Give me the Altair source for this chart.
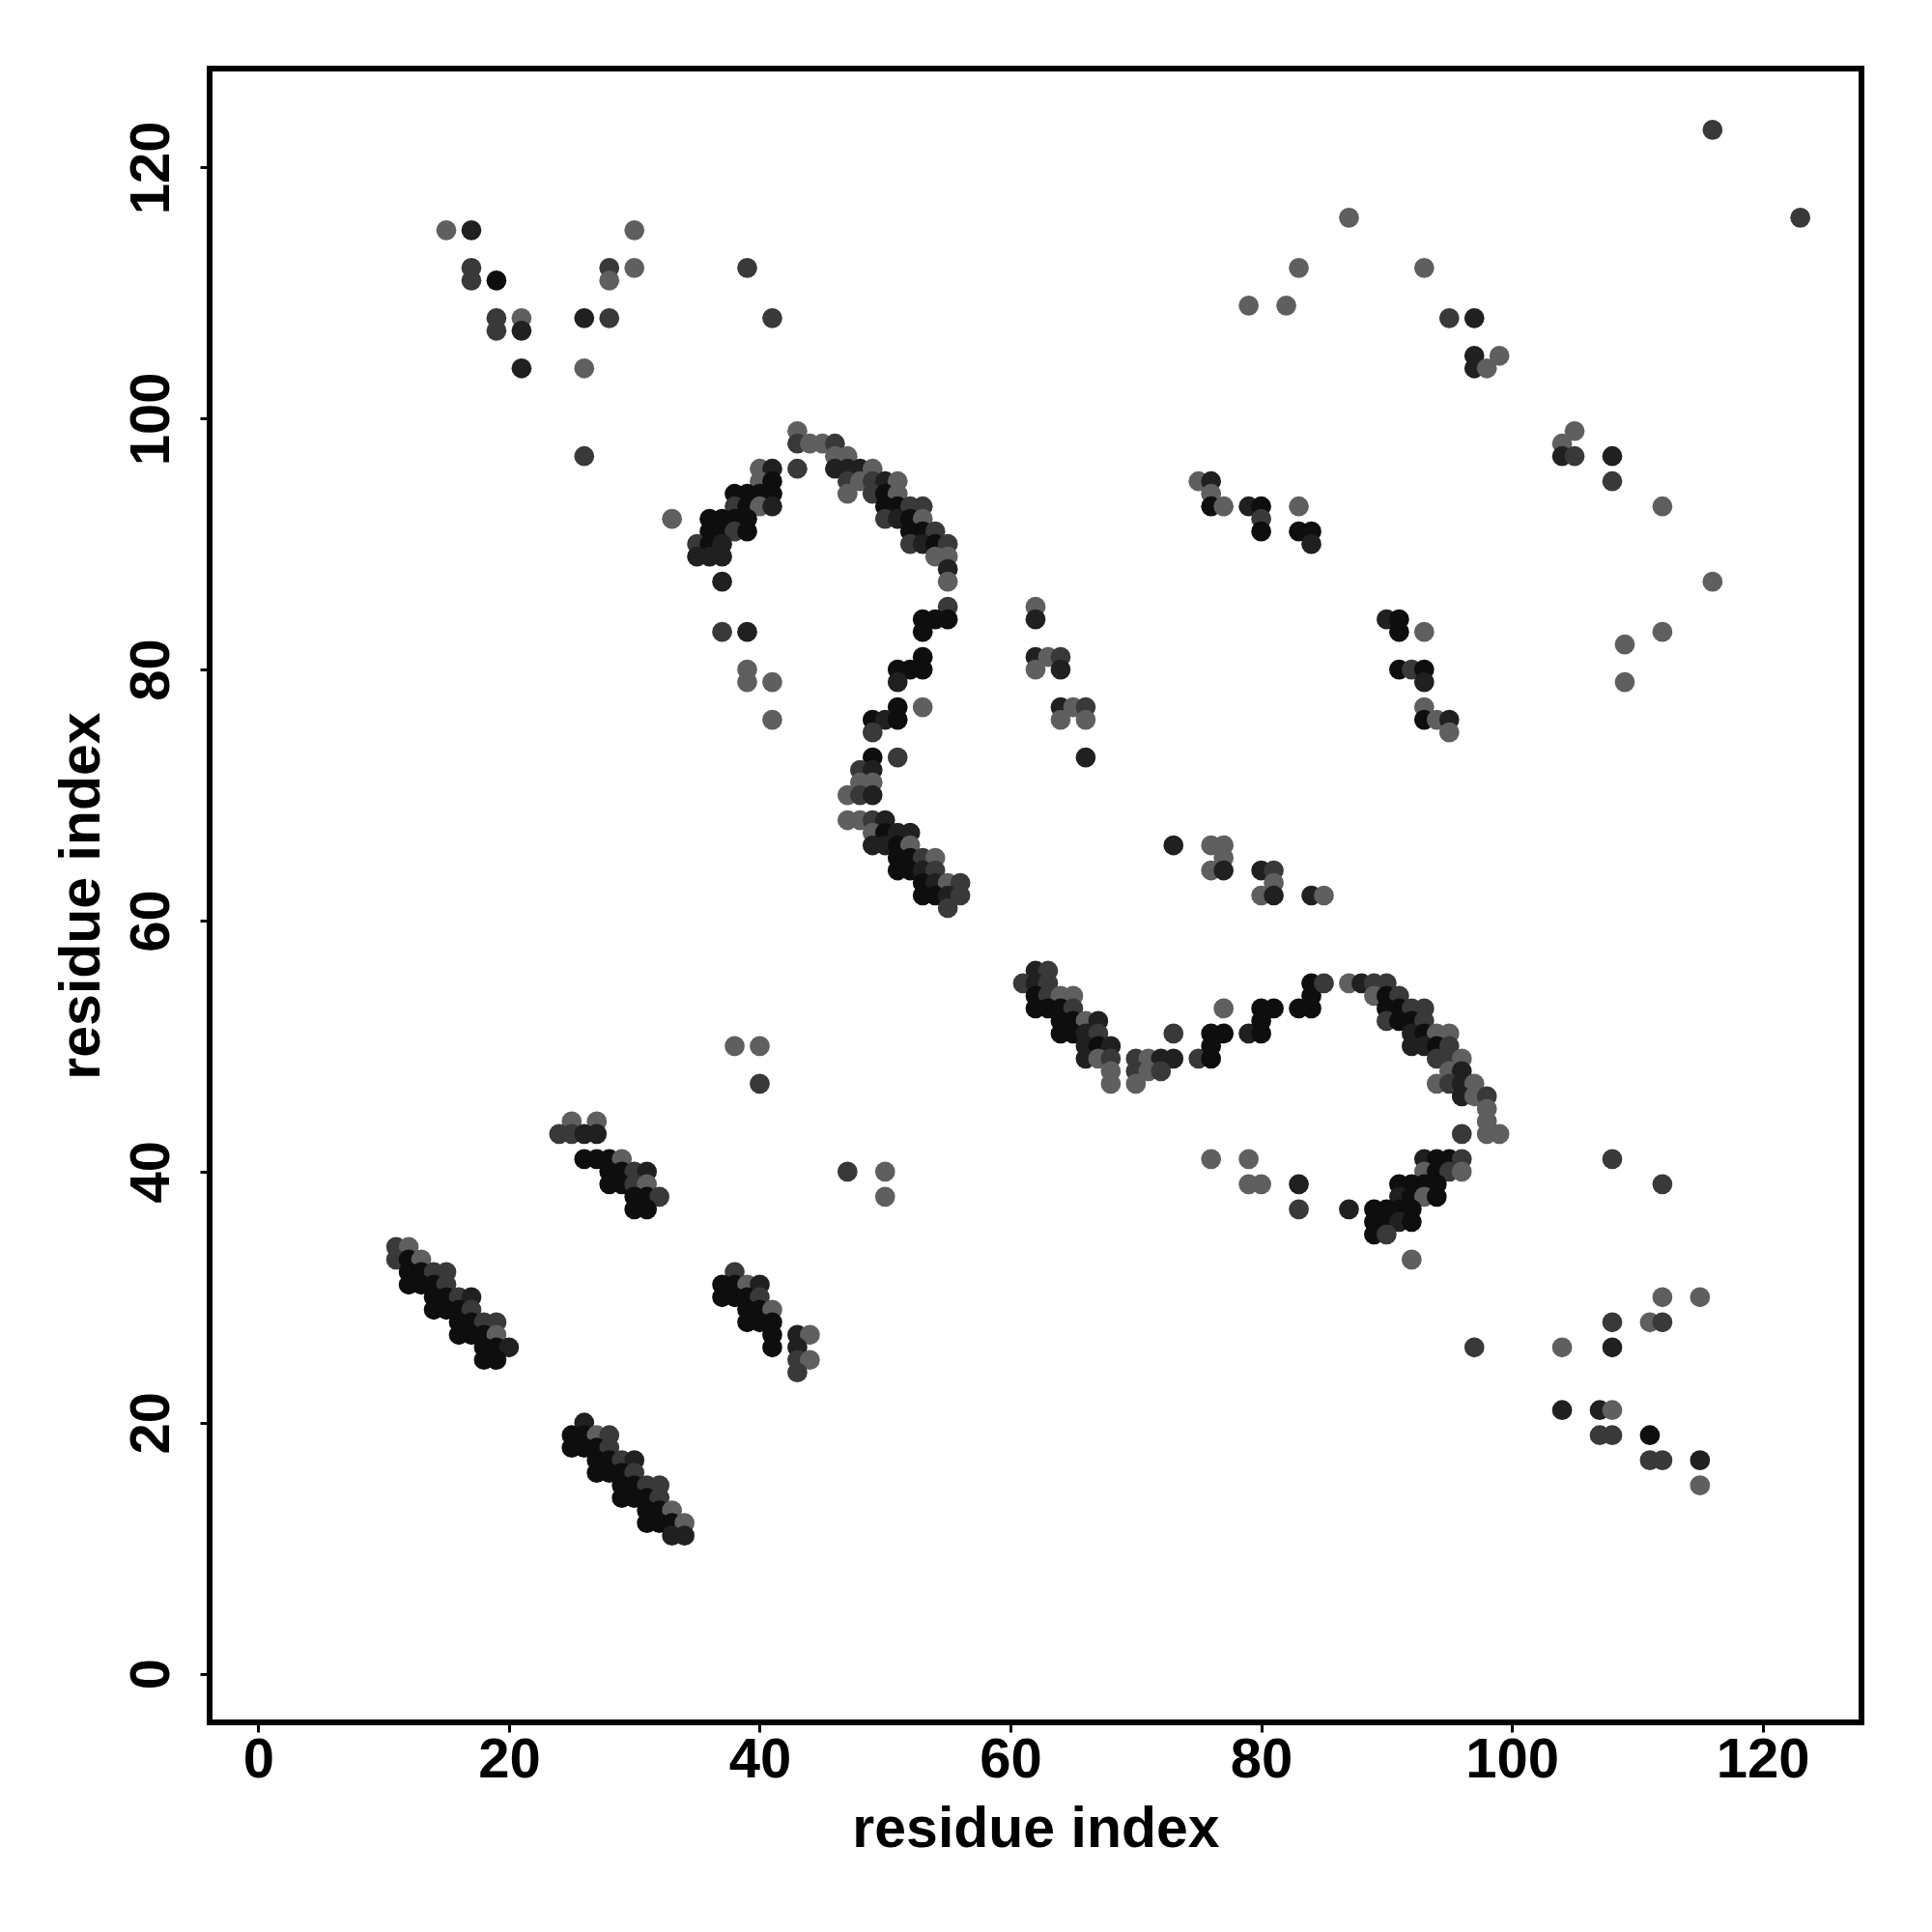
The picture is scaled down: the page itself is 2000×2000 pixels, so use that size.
import altair as alt
import pandas as pd

# contact strength classes read from the grey level of each dot
level_prob = {"K": 0.95, "D": 0.85, "M": 0.70, "G": 0.50}

top_left = [(15,115,"G"),(17,115,"D"),(17,112,"M"),(17,111,"M"),(19,111,"K"),(19,108,"M"),(19,107,"M"),
            (21,108,"G"),(21,107,"D"),(21,104,"D"),(26,108,"D"),(26,104,"G"),(26,97,"M"),(28,112,"M"),
            (28,111,"G"),(28,108,"M"),(30,115,"G"),(30,112,"G"),(39,112,"M"),(41,108,"M"),(33,92,"G")]

arc_right = [(43,99,"G"),(43,98,"M"),(44,98,"G"),(45,98,"G"),(46,98,"M"),(46,97,"G"),(47,97,"G"),(43,96,"M"),
             (46,96,"D"),(47,96,"D"),(48,96,"D"),(49,96,"G"),(47,95,"M"),(48,95,"G"),(49,95,"M"),(50,95,"D"),
             (51,95,"G"),(47,94,"G"),(49,94,"M"),(50,94,"K"),(51,94,"G"),(50,93,"K"),(51,93,"K"),(52,93,"M"),
             (53,93,"M"),(50,92,"M"),(51,92,"D"),(52,92,"K"),(53,92,"G"),(52,91,"K"),(53,91,"K"),(54,91,"M"),
             (52,90,"M"),(53,90,"D"),(54,90,"K"),(55,90,"M"),(54,89,"G"),(55,89,"G"),(55,88,"D"),(55,87,"G"),
             (55,85,"M"),(53,84,"K"),(54,84,"K"),(55,84,"K"),(53,83,"K"),(53,81,"K"),(51,80,"K"),(52,80,"K"),
             (53,80,"K"),(51,79,"D"),(53,77,"G"),(51,77,"K"),(49,76,"K"),(50,76,"D"),(51,76,"K"),(49,75,"M"),
             (51,73,"M"),(49,73,"K"),(48,72,"M"),(49,72,"D"),(48,71,"G"),(49,71,"G"),(47,70,"G"),(48,70,"M"),
             (49,70,"D"),(47,68,"G"),(48,68,"G"),(49,68,"M"),(50,68,"D"),(49,67,"G"),(50,67,"K"),(51,67,"D"),
             (52,67,"D"),(49,66,"D"),(50,66,"D"),(51,66,"K"),(52,66,"G"),(51,65,"K"),(52,65,"K"),(53,65,"M"),
             (54,65,"G"),(51,64,"K"),(52,64,"K"),(53,64,"D"),(54,64,"M"),(53,63,"K"),(54,63,"D"),(55,63,"G"),
             (56,63,"M"),(53,62,"K"),(54,62,"K"),(55,62,"D"),(56,62,"M"),(55,61,"M")]

arc_left = [(40,96,"G"),(41,96,"D"),(40,95,"G"),(41,95,"K"),(38,94,"K"),(39,94,"K"),(40,94,"K"),(41,94,"K"),
            (38,93,"M"),(39,93,"K"),(40,93,"G"),(41,93,"D"),(36,92,"K"),(37,92,"K"),(38,92,"K"),(39,92,"K"),
            (36,91,"K"),(37,91,"K"),(38,91,"M"),(39,91,"K"),(35,90,"M"),(36,90,"K"),(37,90,"D"),(35,89,"D"),
            (36,89,"D"),(37,89,"D"),(37,87,"D"),(37,83,"M"),(39,83,"D"),(39,80,"G"),(39,79,"G"),(41,79,"G"),
            (41,76,"G")]

lower_left = [(38,50,"G"),(40,50,"G"),(40,47,"M"),(47,40,"M"),(50,40,"G"),(50,38,"G"),
              (11,34,"M"),(12,34,"G"),(11,33,"M"),(12,33,"K"),(13,33,"G"),(12,32,"K"),(13,32,"K"),(14,32,"M"),
              (15,32,"M"),(12,31,"K"),(13,31,"K"),(14,31,"K"),(15,31,"M"),(14,30,"K"),(15,30,"K"),(16,30,"M"),
              (17,30,"D"),(14,29,"K"),(15,29,"K"),(16,29,"K"),(17,29,"M"),(16,28,"K"),(17,28,"K"),(18,28,"M"),
              (19,28,"M"),(16,27,"K"),(17,27,"K"),(18,27,"K"),(19,27,"G"),(18,26,"K"),(19,26,"K"),(20,26,"D"),
              (18,25,"K"),(19,25,"K"),
              (25,44,"G"),(27,44,"G"),(24,43,"M"),(25,43,"M"),(26,43,"D"),(27,43,"D"),(26,41,"K"),(27,41,"K"),
              (28,41,"K"),(29,41,"G"),(28,40,"K"),(29,40,"K"),(30,40,"M"),(31,40,"D"),(28,39,"K"),(29,39,"K"),
              (30,39,"M"),(31,39,"G"),(30,38,"K"),(31,38,"K"),(32,38,"M"),(30,37,"K"),(31,37,"K"),
              (38,32,"M"),(37,31,"K"),(38,31,"K"),(39,31,"G"),(40,31,"D"),(37,30,"K"),(38,30,"K"),(39,30,"K"),
              (40,30,"M"),(39,29,"K"),(40,29,"K"),(41,29,"G"),(39,28,"K"),(40,28,"K"),(41,28,"K"),(41,27,"K"),
              (41,26,"K"),(43,27,"D"),(44,27,"G"),(43,26,"D"),(43,25,"M"),(44,25,"G"),(43,24,"M"),
              (26,20,"D"),(25,19,"K"),(26,19,"K"),(27,19,"G"),(28,19,"M"),(25,18,"K"),(26,18,"K"),(27,18,"K"),
              (28,18,"M"),(27,17,"K"),(28,17,"K"),(29,17,"M"),(30,17,"D"),(27,16,"K"),(28,16,"K"),(29,16,"K"),
              (30,16,"M"),(29,15,"K"),(30,15,"K"),(31,15,"M"),(32,15,"M"),(29,14,"K"),(30,14,"K"),(31,14,"K"),
              (32,14,"M"),(31,13,"K"),(32,13,"K"),(33,13,"G"),(31,12,"K"),(32,12,"K"),(33,12,"K"),(34,12,"G"),
              (33,11,"D"),(34,11,"D")]

s_curve = [(62,56,"D"),(63,56,"M"),(61,55,"M"),(62,55,"D"),(63,55,"M"),(62,54,"K"),(63,54,"M"),(64,54,"G"),
           (65,54,"G"),(62,53,"K"),(63,53,"K"),(64,53,"K"),(65,53,"M"),(64,52,"K"),(65,52,"K"),(66,52,"G"),
           (67,52,"D"),(64,51,"K"),(65,51,"K"),(66,51,"D"),(67,51,"M"),(66,50,"D"),(67,50,"K"),(68,50,"D"),
           (66,49,"D"),(67,49,"G"),(68,49,"M"),(68,48,"G"),(68,47,"G"),(70,49,"M"),(71,49,"G"),(72,49,"D"),
           (73,49,"D"),(70,48,"M"),(71,48,"G"),(72,48,"M"),(70,47,"G"),(73,51,"M"),(75,49,"M"),(76,49,"K"),
           (76,50,"K"),(76,51,"K"),(77,51,"K"),(77,53,"G"),(79,51,"D"),(80,51,"K"),(80,52,"K"),(80,53,"K"),
           (81,53,"K"),(83,53,"K"),(84,53,"K"),(84,54,"K"),(84,55,"K"),(85,55,"M"),(87,55,"G"),(88,55,"D"),
           (89,55,"M"),(90,55,"M"),(89,54,"G"),(90,54,"K"),(91,54,"M"),(90,53,"K"),(91,53,"K"),(92,53,"M"),
           (93,53,"M"),(90,52,"M"),(91,52,"K"),(92,52,"K"),(93,52,"M"),(92,51,"D"),(93,51,"K"),(94,51,"G"),
           (95,51,"G"),(92,50,"D"),(93,50,"D"),(94,50,"K"),(95,50,"M"),(94,49,"M"),(95,49,"M"),(96,49,"G"),
           (95,48,"G"),(96,48,"D"),(94,47,"G"),(95,47,"M"),(96,47,"D"),(97,47,"G"),(96,46,"D"),(97,46,"G"),
           (98,46,"M"),(98,45,"G"),(98,44,"G"),(96,43,"M"),(98,43,"G"),(99,43,"G"),
           (83,39,"D"),(83,37,"M"),(87,37,"D"),(92,33,"G"),(93,41,"D"),(94,41,"K"),(95,41,"K"),(96,41,"M"),
           (93,40,"G"),(94,40,"K"),(95,40,"M"),(96,40,"G"),(91,39,"K"),(92,39,"K"),(93,39,"K"),(94,39,"K"),
           (91,38,"D"),(92,38,"K"),(93,38,"G"),(94,38,"K"),(89,37,"K"),(90,37,"K"),(91,37,"K"),(92,37,"K"),
           (89,36,"K"),(90,36,"K"),(91,36,"D"),(92,36,"K"),(89,35,"K"),(90,35,"M"),(76,41,"G"),(79,41,"G"),
           (79,39,"G"),(80,39,"G")]

middle = [(75,95,"G"),(76,95,"D"),(76,94,"G"),(76,93,"K"),(77,93,"G"),(79,93,"D"),(80,93,"K"),(80,92,"M"),
          (80,91,"K"),(83,93,"G"),(83,91,"K"),(84,91,"K"),(84,90,"D"),(62,85,"G"),(62,84,"D"),(62,81,"D"),
          (63,81,"G"),(64,81,"M"),(62,80,"G"),(64,80,"D"),(64,77,"D"),(65,77,"G"),(66,77,"M"),(64,76,"G"),
          (66,76,"G"),(66,73,"D"),(90,84,"D"),(91,84,"K"),(91,83,"K"),(93,83,"G"),(91,80,"K"),(92,80,"M"),
          (93,80,"K"),(93,79,"D"),(93,77,"G"),(93,76,"K"),(94,76,"G"),(95,76,"D"),(95,75,"G"),(73,66,"D"),
          (76,66,"G"),(77,66,"G"),(77,65,"G"),(76,64,"G"),(77,64,"D"),(80,64,"D"),(81,64,"M"),(81,63,"G"),
          (80,62,"G"),(81,62,"D"),(84,62,"D"),(85,62,"G")]

upper_right = [(87,116,"G"),(83,112,"G"),(93,112,"G"),(79,109,"G"),(82,109,"G"),(95,108,"M"),(97,108,"D"),
               (97,105,"D"),(97,104,"D"),(98,104,"G"),(99,105,"G"),(104,98,"G"),(105,99,"G"),(104,97,"D"),
               (105,97,"M"),(108,97,"D"),(108,95,"M"),(112,93,"G"),(116,87,"G"),(112,83,"G"),(109,82,"G"),
               (109,79,"G"),(116,123,"M"),(123,116,"M")]

lower_right = [(108,41,"M"),(112,39,"M"),(97,26,"M"),(104,26,"G"),(108,26,"D"),(112,30,"G"),(115,30,"G"),
               (108,28,"M"),(111,28,"G"),(112,28,"M"),(104,21,"D"),(107,21,"D"),(108,21,"G"),(107,19,"M"),
               (108,19,"M"),(111,19,"K"),(111,17,"M"),(112,17,"M"),(115,17,"D"),(115,15,"G")]

axis_ticks = [0, 20, 40, 60, 80, 100, 120]

rows = []
for group in (top_left, arc_right, arc_left, lower_left, s_curve, middle, upper_right, lower_right):
    for i, j, lev in group:
        rows.append({"i": i, "j": j, "p": level_prob[lev]})
df = pd.DataFrame(rows)

FONT = "Liberation Sans"

chart = alt.Chart(df).mark_circle(size=430, opacity=1).encode(
    x=alt.X("i:Q",
            scale=alt.Scale(domain=[-3.88, 127.88], nice=False, zero=False),
            axis=alt.Axis(values=axis_ticks, title="residue index", labelPadding=0,
                          titleY=128, titleBaseline="alphabetic")),
    y=alt.Y("j:Q",
            scale=alt.Scale(domain=[-3.88, 127.88], nice=False, zero=False),
            axis=alt.Axis(values=axis_ticks, title="residue index", labelAngle=270,
                          labelAlign="center", labelBaseline="alphabetic", labelPadding=33,
                          titleX=-115, titleY=856, titleAngle=270, titleAlign="center",
                          titleBaseline="alphabetic")),
    color=alt.Color("p:Q", scale=alt.Scale(domain=[0.5, 1.0], range=["#5f5f5f", "#000000"]),
                    legend=None),
).properties(
    width=1710, height=1712,
    padding={"left": 209, "top": 63, "right": 50, "bottom": 180},
    autosize=alt.AutoSizeParams(type="none"),
).configure_view(
    stroke="black", strokeWidth=6
).configure_axis(
    domain=False, grid=False, ticks=True, tickColor="black", tickWidth=3, tickSize=10,
    labelFont=FONT, labelFontWeight="bold", labelFontSize=58, labelColor="black",
    titleFont=FONT, titleFontWeight="bold", titleFontSize=59, titleColor="black",
    labelOverlap=False, labelFlush=False,
)

chart.save("out.html", embed_options={"renderer": "svg", "actions": False})
